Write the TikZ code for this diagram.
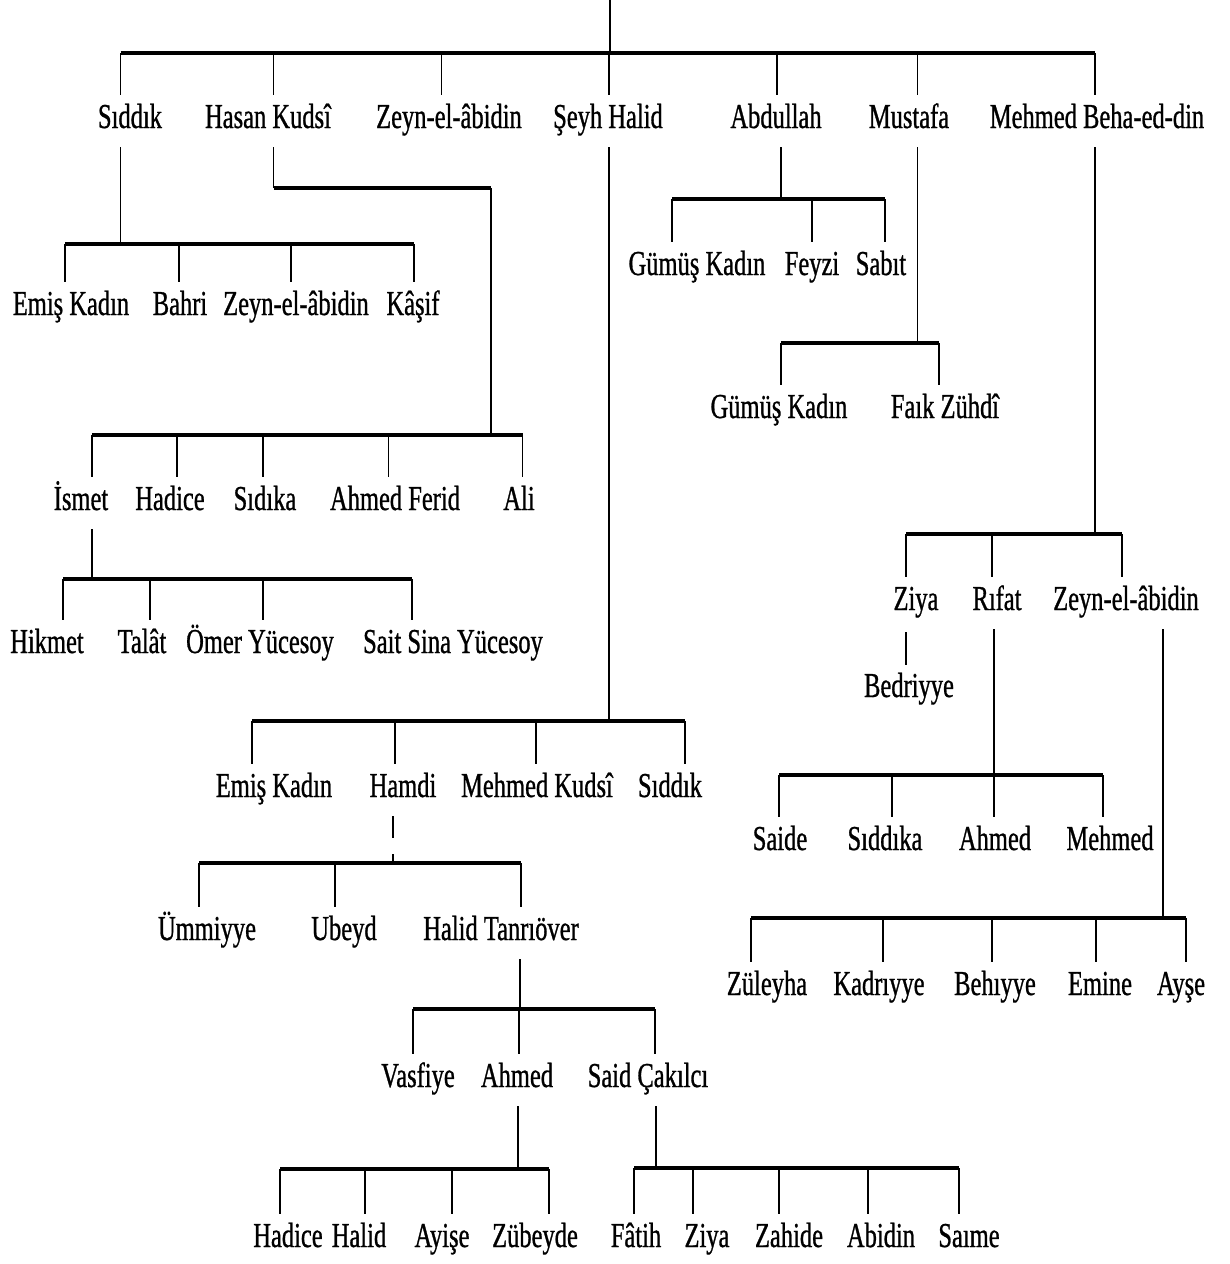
\documentclass[tikz,border=0pt]{standalone}
\usepackage{fontspec}
\setmainfont{Liberation Serif}[FakeStretch=0.70,FakeBold=0.8]
\usetikzlibrary{calc}
\tikzset{
  person/.style={inner sep=0pt, anchor=base, text height=24pt, text depth=7pt,
    font=\fontsize{35}{40}\selectfont},
  drop/.style={line width=1.6pt, shorten >=9pt},
  stem/.style={line width=1.9pt, shorten <=12pt},
  barline/.style={line width=3.4pt},
}
\newcommand\bary{0}
\newcommand\kid[5]{%
  \node[person] (#1) at (#3,#4) {#2};
  \coordinate (#1-d) at (#5,\bary);
  \draw[drop] (#1-d) -- (#1.north -| #1-d);
}
\begin{document}
\begin{tikzpicture}[x=1pt,y=-1pt]
\fill[white] (0,0) rectangle (1230,1264);
\useasboundingbox (0,0) rectangle (1230,1264);

% root
\coordinate (root) at (610,0);
\coordinate (j0) at (610,53);
\draw[line width=1.9pt] (root) -- (j0);
\renewcommand\bary{53}
\kid{sid}{Sıddık}{130}{128}{120.5}
\kid{has}{Hasan Kudsî}{268}{128}{273.5}
\kid{zey}{Zeyn-el-âbidin}{449}{128}{441.5}
\kid{seyh}{Şeyh Halid}{608}{128}{609}
\kid{abd}{Abdullah}{776}{128}{777}
\kid{mus}{Mustafa}{909}{128}{917.5}
\kid{meh}{Mehmed Beha-ed-din}{1097}{128}{1095}
\draw[barline] (sid-d) -- (meh-d);

% Siddik
\coordinate (jsid) at (120.5,244);
\draw[stem] (sid.south -| jsid) -- (jsid);
\renewcommand\bary{244}
\kid{emisA}{Emiş Kadın}{71}{315}{65}
\kid{bahri}{Bahri}{180}{315}{179}
\kid{zeyA}{Zeyn-el-âbidin}{296}{315}{291}
\kid{kasif}{Kâşif}{413}{315}{414}
\draw[barline] (emisA-d) -- (kasif-d);

% Hasan Kudsi
\coordinate (hasA) at (273.5,188);
\coordinate (hasB) at (491,188);
\coordinate (jhas) at (491,435);
\draw[stem] (has.south -| hasA) -- (hasA);
\draw[barline] (hasA) -- (hasB);
\draw[line width=1.9pt] (hasB) -- (jhas);
\renewcommand\bary{435}
\kid{ismet}{İsmet}{81}{510}{92}
\kid{hadiceA}{Hadice}{170}{510}{177}
\kid{sidika}{Sıdıka}{265}{510}{263}
\kid{ahmedferid}{Ahmed Ferid}{395}{510}{388.5}
\kid{ali}{Ali}{519}{510}{522.5}
\draw[barline] (ismet-d) -- (ali-d);

% Ismet
\coordinate (jism) at (92,579);
\draw[stem] (ismet.south -| jism) -- (jism);
\renewcommand\bary{579}
\kid{hikmet}{Hikmet}{47}{653}{63}
\kid{talat}{Talât}{142}{653}{150}
\kid{omer}{Ömer Yücesoy}{260}{653}{263}
\kid{sait}{Sait Sina Yücesoy}{453}{653}{412}
\draw[barline] (hikmet-d) -- (sait-d);

% Seyh Halid
\coordinate (jseyh) at (609,721);
\draw[stem] (seyh.south -| jseyh) -- (jseyh);
\renewcommand\bary{721}
\kid{emisB}{Emiş Kadın}{274}{797}{252}
\kid{hamdi}{Hamdi}{403}{797}{395}
\kid{mkudsi}{Mehmed Kudsî}{537}{797}{536}
\kid{siddikB}{Sıddık}{670}{797}{685}
\draw[barline] (emisB-d) -- (siddikB-d);

% Hamdi
\coordinate (jham) at (393,863);
\draw[stem, dash pattern=on 22pt off 16pt on 12pt] (hamdi.south -| jham) -- (jham);
\renewcommand\bary{863}
\kid{ummiyye}{Ümmiyye}{207}{940}{199}
\kid{ubeyd}{Ubeyd}{344}{940}{335}
\kid{halidt}{Halid Tanrıöver}{501}{940}{521}
\draw[barline] (ummiyye-d) -- (halidt-d);

% Halid Tanriover
\coordinate (jhal) at (520,1009);
\draw[stem] (halidt.south -| jhal) -- (jhal);
\renewcommand\bary{1009}
\kid{vasfiye}{Vasfiye}{418}{1087}{413}
\kid{ahmedB}{Ahmed}{517}{1087}{519}
\kid{said}{Said Çakılcı}{648}{1087}{655}
\draw[barline] (vasfiye-d) -- (said-d);

% Ahmed
\coordinate (jahm) at (518,1169);
\draw[stem] (ahmedB.south -| jahm) -- (jahm);
\renewcommand\bary{1169}
\kid{hadiceB}{Hadice}{288}{1247}{280}
\kid{halidB}{Halid}{359}{1247}{365}
\kid{ayise}{Ayişe}{442}{1247}{452}
\kid{zubeyde}{Zübeyde}{535}{1247}{549}
\draw[barline] (hadiceB-d) -- (zubeyde-d);

% Said Cakilci
\coordinate (jsaid) at (656,1168);
\draw[stem] (said.south -| jsaid) -- (jsaid);
\renewcommand\bary{1168}
\kid{fatih}{Fâtih}{636}{1247}{634}
\kid{ziyaB}{Ziya}{707}{1247}{693}
\kid{zahide}{Zahide}{789}{1247}{779}
\kid{abidin}{Abidin}{881}{1247}{868}
\kid{saime}{Saıme}{969}{1247}{959}
\draw[barline] (fatih-d) -- (saime-d);

% Abdullah
\coordinate (jabd) at (781,199);
\draw[stem] (abd.south -| jabd) -- (jabd);
\renewcommand\bary{199}
\kid{gumusA}{Gümüş Kadın}{697}{275}{672}
\kid{feyzi}{Feyzi}{812}{275}{812}
\kid{sabit}{Sabıt}{881}{275}{885}
\draw[barline] (gumusA-d) -- (sabit-d);

% Mustafa
\coordinate (jmus) at (917.5,343);
\draw[stem] (mus.south -| jmus) -- (jmus);
\renewcommand\bary{343}
\kid{gumusB}{Gümüş Kadın}{779}{418}{781}
\kid{faik}{Faık Zühdî}{945}{418}{939}
\draw[barline] (gumusB-d) -- (faik-d);

% Mehmed Beha-ed-din
\coordinate (jmeh) at (1095,534);
\draw[stem] (meh.south -| jmeh) -- (jmeh);
\renewcommand\bary{534}
\kid{ziyaA}{Ziya}{916}{610}{906}
\kid{rifat}{Rıfat}{997}{610}{992}
\kid{zeyB}{Zeyn-el-âbidin}{1126}{610}{1122}
\draw[barline] (ziyaA-d) -- (zeyB-d);

% Ziya -> Bedriyye
\node[person] (bedriyye) at (909,697) {Bedriyye};
\coordinate (jziya) at (906,0);
\draw[line width=1.6pt, shorten <=15pt, shorten >=8pt] (ziyaA.south -| jziya) -- (bedriyye.north -| jziya);

% Rifat
\coordinate (jrif) at (994,775);
\draw[stem] (rifat.south -| jrif) -- (jrif);
\renewcommand\bary{775}
\kid{saide}{Saide}{780}{850}{779}
\kid{siddika}{Sıddıka}{885}{850}{892}
\kid{ahmedC}{Ahmed}{995}{850}{994}
\kid{mehmedC}{Mehmed}{1110}{850}{1103}
\draw[barline] (saide-d) -- (mehmedC-d);

% Zeyn-el-abidin (right)
\coordinate (jzey) at (1163,918);
\draw[stem] (zeyB.south -| jzey) -- (jzey);
\renewcommand\bary{918}
\kid{zuleyha}{Züleyha}{767}{995}{751}
\kid{kadriyye}{Kadrıyye}{879}{995}{883}
\kid{behiyye}{Behıyye}{995}{995}{992}
\kid{emine}{Emine}{1100}{995}{1096}
\kid{ayse}{Ayşe}{1181}{995}{1186}
\draw[barline] (zuleyha-d) -- (ayse-d);
\end{tikzpicture}
\end{document}
